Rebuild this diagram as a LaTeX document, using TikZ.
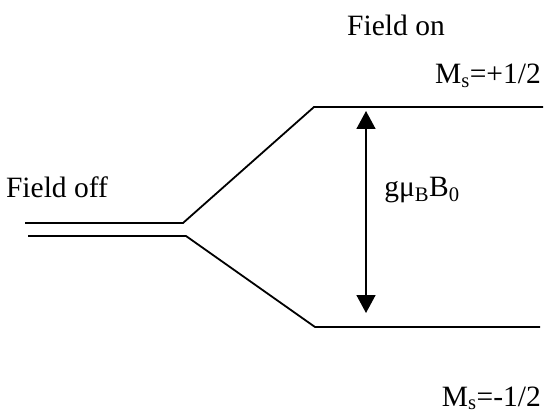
\documentclass[tikz,border=0pt]{standalone}
\usepackage{fontspec}
\setmainfont{Liberation Serif}
\usetikzlibrary{arrows.meta}
\begin{document}
\begin{tikzpicture}[x=1pt,y=-1pt,
  level/.style={line width=1.8pt},
  lbl/.style={font=\fontsize{29.5}{32}\selectfont, inner sep=0pt},
  gap/.style={line width=1.6pt, {Triangle[width=19pt,length=18pt]}-{Triangle[width=19pt,length=18pt]}, shorten <=4pt, shorten >=14pt}]
\useasboundingbox (0,0) rectangle (545,414);
\coordinate (a1) at (25,223);
\coordinate (a2) at (183,223);
\coordinate (b1) at (28,236);
\coordinate (b2) at (186,236);
\coordinate (u1) at (314,107);
\coordinate (u2) at (543,107);
\coordinate (d1) at (315,327);
\coordinate (d2) at (540,327);
\coordinate (t1) at (366,107);
\coordinate (t2) at (366,327);
\draw[level] (a1) -- (a2) -- (u1) -- (u2);
\draw[level] (b1) -- (b2) -- (d1) -- (d2);
\draw[gap] (t1) -- (t2);
\node[lbl] (off) at (57,187) {Field off};
\node[lbl] (on) at (396,25) {Field on};
\node[lbl, anchor=base east] (mp) at (541,84) {M\textsubscript{s}=+1/2};
\node[lbl, anchor=base east] (mm) at (541,406) {M\textsubscript{s}=-1/2};
\node[lbl] (g) at (422,190) {gμ\textsubscript{B}B\textsubscript{0}};
\end{tikzpicture}
\end{document}
